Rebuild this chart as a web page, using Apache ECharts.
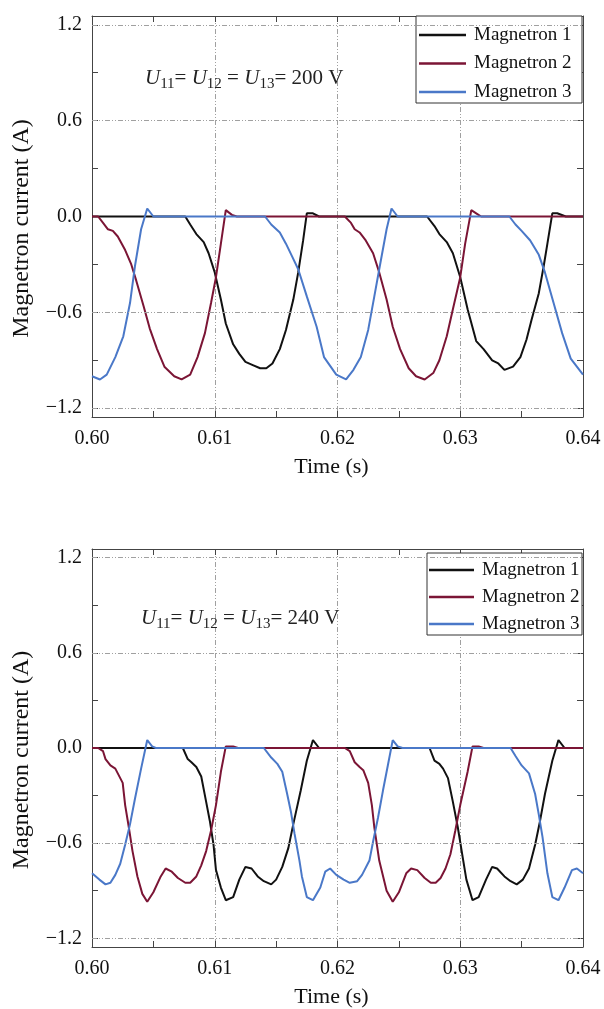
<!DOCTYPE html>
<html><head><meta charset="utf-8">
<script src="https://cdn.jsdelivr.net/npm/echarts@6/dist/echarts.min.js"></script>
<style>html,body{margin:0;padding:0;background:#fff}#c{width:604px;height:1009px}</style>
</head><body><div id="c"></div><script>
// ---------- data ----------
const seriesNames = ['Magnetron 1', 'Magnetron 2', 'Magnetron 3'];
const seriesColors = ['#111111', '#7b1535', '#4a78c8'];
const xTickValues = [0.60, 0.61, 0.62, 0.63, 0.64];
const yLabelValues = [-1.2, -0.6, 0, 0.6, 1.2];
const yGridValues = [-1.2, -0.6, 0.6, 1.2];
const yTickValues = [-1.2, -0.9, -0.6, -0.3, 0, 0.3, 0.6, 0.9, 1.2];
const labels200 = ['11', '12', '13', '200 V'];
const labels240 = ['11', '12', '13', '240 V'];

// U = 200 V  [time (s), current (A)]
const u200_m1 = [[0.600,0],[0.6076,0],[0.6080,-0.05],[0.6085,-0.11],[0.6091,-0.16],[0.6095,-0.23],[0.6100,-0.35],[0.6105,-0.52],[0.6109,-0.67],[0.6115,-0.80],[0.6120,-0.86],[0.6125,-0.91],[0.6131,-0.93],[0.6137,-0.95],[0.6142,-0.95],[0.6147,-0.92],[0.6153,-0.83],[0.6158,-0.71],[0.6164,-0.52],[0.6168,-0.35],[0.6172,-0.15],[0.6175,0.02],[0.6180,0.02],[0.6185,0],[0.6273,0],[0.6279,-0.06],[0.6283,-0.11],[0.6289,-0.16],[0.6294,-0.23],[0.6300,-0.38],[0.6306,-0.58],[0.6313,-0.78],[0.6319,-0.83],[0.6326,-0.90],[0.6331,-0.92],[0.6336,-0.96],[0.6343,-0.94],[0.6349,-0.88],[0.6354,-0.77],[0.6358,-0.65],[0.6364,-0.48],[0.6368,-0.31],[0.6371,-0.17],[0.6375,0.02],[0.6379,0.02],[0.6386,0],[0.640,0]];
const u200_m2 = [[0.600,0],[0.6005,0],[0.6009,-0.04],[0.6013,-0.08],[0.6017,-0.09],[0.6021,-0.125],[0.6027,-0.21],[0.6032,-0.30],[0.6036,-0.40],[0.6042,-0.56],[0.6047,-0.70],[0.6053,-0.83],[0.6059,-0.94],[0.6067,-1.0],[0.6073,-1.02],[0.6080,-0.99],[0.6086,-0.88],[0.6092,-0.73],[0.6097,-0.54],[0.6101,-0.38],[0.6105,-0.17],[0.6109,0.04],[0.6114,0.01],[0.6118,0],[0.6206,0],[0.6211,-0.04],[0.6214,-0.08],[0.6218,-0.10],[0.6223,-0.15],[0.6229,-0.23],[0.6234,-0.35],[0.6240,-0.52],[0.6245,-0.69],[0.6251,-0.83],[0.6258,-0.95],[0.6264,-1.0],[0.6271,-1.02],[0.6278,-0.98],[0.6283,-0.90],[0.6289,-0.75],[0.6294,-0.58],[0.6300,-0.38],[0.6304,-0.17],[0.6309,0.04],[0.6313,0.02],[0.6317,0],[0.640,0]];
const u200_m3 = [[0.600,-1.0],[0.60065,-1.02],[0.6012,-0.99],[0.6019,-0.88],[0.60255,-0.75],[0.6031,-0.54],[0.6035,-0.31],[0.6040,-0.08],[0.6045,0.05],[0.6050,0],[0.6141,0],[0.6146,-0.05],[0.6153,-0.10],[0.6158,-0.17],[0.6163,-0.25],[0.6168,-0.33],[0.6175,-0.50],[0.6183,-0.69],[0.6189,-0.88],[0.6199,-0.99],[0.6207,-1.02],[0.6213,-0.96],[0.6219,-0.88],[0.6225,-0.71],[0.6230,-0.50],[0.6234,-0.33],[0.6240,-0.08],[0.6244,0.05],[0.6249,0],[0.6340,0],[0.6345,-0.05],[0.6350,-0.09],[0.6357,-0.15],[0.6364,-0.24],[0.6369,-0.35],[0.6376,-0.54],[0.6383,-0.73],[0.6390,-0.89],[0.6400,-0.99]];

// U = 240 V  [time (s), current (A)]
const u240_m1 = [[0.600,0],[0.6074,0],[0.6078,-0.07],[0.6081,-0.09],[0.6085,-0.12],[0.6089,-0.18],[0.6093,-0.34],[0.6096,-0.46],[0.6099,-0.61],[0.6101,-0.77],[0.6105,-0.88],[0.6109,-0.96],[0.6115,-0.94],[0.6120,-0.83],[0.6125,-0.75],[0.6130,-0.76],[0.6135,-0.81],[0.6140,-0.84],[0.6146,-0.86],[0.6150,-0.83],[0.6155,-0.75],[0.6160,-0.63],[0.6164,-0.48],[0.6170,-0.27],[0.6175,-0.08],[0.6180,0.05],[0.6185,0],[0.6275,0],[0.6279,-0.08],[0.6283,-0.10],[0.6286,-0.13],[0.6290,-0.19],[0.6294,-0.34],[0.6298,-0.50],[0.6302,-0.69],[0.6305,-0.83],[0.6310,-0.96],[0.6315,-0.94],[0.6321,-0.83],[0.6326,-0.75],[0.6330,-0.76],[0.6336,-0.81],[0.6341,-0.84],[0.6346,-0.86],[0.6351,-0.83],[0.6356,-0.76],[0.6361,-0.61],[0.6365,-0.46],[0.6369,-0.29],[0.6375,-0.08],[0.6380,0.05],[0.6385,0],[0.640,0]];
const u240_m2 = [[0.600,0],[0.6005,0],[0.6009,-0.02],[0.6011,-0.07],[0.6015,-0.11],[0.6019,-0.13],[0.6025,-0.22],[0.6027,-0.36],[0.6030,-0.50],[0.6033,-0.65],[0.6037,-0.81],[0.6041,-0.92],[0.6045,-0.97],[0.6050,-0.91],[0.6056,-0.81],[0.6060,-0.76],[0.6065,-0.78],[0.6070,-0.82],[0.6076,-0.85],[0.6080,-0.85],[0.6085,-0.81],[0.6089,-0.74],[0.6093,-0.65],[0.6097,-0.52],[0.6101,-0.36],[0.6105,-0.15],[0.6109,0.01],[0.6115,0.01],[0.6119,0],[0.6206,0],[0.6210,-0.02],[0.6214,-0.09],[0.6218,-0.12],[0.6221,-0.14],[0.6225,-0.22],[0.6228,-0.36],[0.6230,-0.50],[0.6234,-0.71],[0.6240,-0.90],[0.6245,-0.97],[0.6250,-0.91],[0.6256,-0.79],[0.6260,-0.76],[0.6265,-0.77],[0.6271,-0.82],[0.6276,-0.85],[0.6280,-0.85],[0.6284,-0.82],[0.6288,-0.76],[0.6292,-0.67],[0.6296,-0.52],[0.6300,-0.36],[0.6306,-0.15],[0.6310,0.01],[0.6315,0.01],[0.6319,0],[0.640,0]];
const u240_m3 = [[0.600,-0.79],[0.6006,-0.83],[0.6011,-0.86],[0.6015,-0.85],[0.6019,-0.80],[0.6023,-0.73],[0.6027,-0.61],[0.6031,-0.48],[0.6035,-0.32],[0.6040,-0.13],[0.6045,0.05],[0.6049,0.01],[0.6052,0],[0.6140,0],[0.6146,-0.06],[0.6151,-0.10],[0.6155,-0.15],[0.6159,-0.29],[0.6162,-0.40],[0.6165,-0.54],[0.6169,-0.71],[0.6171,-0.81],[0.6175,-0.94],[0.6180,-0.96],[0.6186,-0.88],[0.6190,-0.78],[0.6194,-0.76],[0.6199,-0.80],[0.6205,-0.83],[0.6210,-0.85],[0.6216,-0.84],[0.6220,-0.80],[0.6226,-0.71],[0.6229,-0.59],[0.6233,-0.44],[0.6237,-0.27],[0.6241,-0.11],[0.6245,0.05],[0.6249,0.01],[0.6253,0],[0.6341,0],[0.6345,-0.05],[0.6350,-0.11],[0.6356,-0.16],[0.6361,-0.29],[0.6364,-0.42],[0.6367,-0.56],[0.6371,-0.79],[0.6375,-0.94],[0.6380,-0.96],[0.6385,-0.88],[0.6391,-0.77],[0.6395,-0.76],[0.6400,-0.79]];

// ---------- styling ----------
const FONT = '"Liberation Serif","Times New Roman",serif';
const AXC = '#444';
const GRIDLINE = {color: '#a0a0a0', width: 1, type: [5, 2, 1, 2, 1, 2]};

function xAx(gi, pos) {
  const bottom = pos === 'bottom';
  return {
    type: 'value', gridIndex: gi, position: pos,
    min: xTickValues[0], max: xTickValues[xTickValues.length - 1], interval: 0.01,
    axisLine: {show: true, onZero: false, lineStyle: {color: AXC, width: 1}},
    axisTick: {show: true, inside: true, length: 6, lineStyle: {color: AXC}},
    minorTick: {show: true, splitNumber: 2, length: 6, lineStyle: {color: AXC}},
    splitLine: {show: bottom, lineStyle: GRIDLINE},
    axisLabel: {show: bottom, formatter: v => v.toFixed(2), fontFamily: FONT, fontSize: 20, color: '#111', margin: 12},
    name: bottom ? 'Time (s)' : '', nameLocation: 'middle', nameGap: 39,
    nameTextStyle: {fontFamily: FONT, fontSize: 22, color: '#111', padding: [0, 12, 0, 0]}
  };
}
function yAx(gi, pos) {
  const left = pos === 'left';
  return {
    type: 'value', gridIndex: gi, position: pos, min: -1.255, max: 1.255,
    axisLine: {show: true, onZero: false, lineStyle: {color: AXC, width: 1}},
    axisTick: {show: true, inside: true, length: 6, customValues: yTickValues, lineStyle: {color: AXC}},
    splitLine: {show: false},
    axisLabel: {show: left, customValues: yLabelValues, margin: 10,
      formatter: v => (v < -1e-9 ? '\u2212' : '') + Math.abs(v).toFixed(1),
      fontFamily: FONT, fontSize: 20, color: '#111'},
    name: left ? 'Magnetron current (A)' : '', nameLocation: 'middle', nameGap: 58,
    nameTextStyle: {fontFamily: FONT, fontSize: 24, color: '#111', padding: [0, 24, 0, 0]}
  };
}
function lineSeries(name, data, gi, color) {
  return {
    type: 'line', name, data, xAxisIndex: gi * 2, yAxisIndex: gi * 2,
    showSymbol: false, symbol: 'none', smooth: false, z: 3,
    lineStyle: {color, width: 2}, itemStyle: {color}
  };
}
function gridSeries(gi) {
  return {
    type: 'line', name: '_grid' + gi, data: [], xAxisIndex: gi * 2, yAxisIndex: gi * 2,
    silent: true, z: 1,
    markLine: {silent: true, symbol: ['none', 'none'], label: {show: false},
      lineStyle: GRIDLINE, animation: false,
      data: yGridValues.map(v => ({yAxis: v}))}
  };
}
function annotation(x, y, labels) {
  const rich = {
    u: {fontStyle: 'italic', fontSize: 21, fontFamily: FONT, fill: '#222', lineHeight: 24, verticalAlign: 'top'},
    s: {fontSize: 15, fontFamily: FONT, fill: '#222', lineHeight: 15, verticalAlign: 'bottom'},
    n: {fontSize: 21, fontFamily: FONT, fill: '#222', lineHeight: 24, verticalAlign: 'top'}
  };
  return {
    type: 'text', left: x, top: y, z: 10,
    style: {
      text: '{u|U}{s|' + labels[0] + '}{n|= }{u|U}{s|' + labels[1] + '}{n| = }{u|U}{s|' + labels[2] + '}{n|= ' + labels[3] + '}',
      rich
    }
  };
}
function legend(x, y, itemW, gap, pad, textW) {
  return {
    left: x, top: y, orient: 'vertical', data: seriesNames, icon: 'rect',
    itemWidth: itemW, itemHeight: 2.5, itemGap: gap, padding: pad,
    borderColor: '#333', borderWidth: 1, borderRadius: 0, backgroundColor: '#fff',
    selectedMode: false,
    textStyle: {fontFamily: FONT, fontSize: 19, color: '#111', lineHeight: 20, width: textW, padding: [0, 0, 0, 3]}
  };
}

const option = {
  animation: false,
  backgroundColor: '#fff',
  color: seriesColors,
  grid: [
    {left: 92, right: 21, top: 16, height: 401},
    {left: 92, right: 21, top: 549, height: 401}
  ],
  xAxis: [xAx(0, 'bottom'), xAx(0, 'top'), xAx(1, 'bottom'), xAx(1, 'top')],
  yAxis: [yAx(0, 'left'), yAx(0, 'right'), yAx(1, 'left'), yAx(1, 'right')],
  legend: [
    legend(416, 16, 47, 8.5, [9, 8, 1, 3], 100),
    legend(427, 553, 45, 7, [7, 2, 1, 2], 98)
  ],
  graphic: [annotation(145, 68, labels200), annotation(141, 608, labels240)],
  series: [
    gridSeries(0), gridSeries(1),
    lineSeries(seriesNames[0], u200_m1, 0, seriesColors[0]),
    lineSeries(seriesNames[1], u200_m2, 0, seriesColors[1]),
    lineSeries(seriesNames[2], u200_m3, 0, seriesColors[2]),
    lineSeries(seriesNames[0], u240_m1, 1, seriesColors[0]),
    lineSeries(seriesNames[1], u240_m2, 1, seriesColors[1]),
    lineSeries(seriesNames[2], u240_m3, 1, seriesColors[2])
  ]
};
const chart = echarts.init(document.getElementById('c'), null, {renderer: 'canvas'});
chart.setOption(option);
</script></body></html>
